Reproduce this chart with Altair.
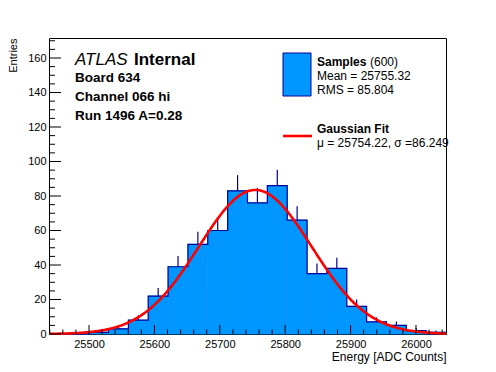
import altair as alt
import numpy as np
import pandas as pd

# ---- data ----
counts = [0, 0, 1, 3, 8, 22, 39, 52, 60, 83, 76, 86, 66, 35, 38, 16, 7, 5, 2, 1]
x_range = [25438.8, 26045.9]
y_max = 171.6
fit_mu = 25754.22
fit_sigma = 86.249
fit_amp = 83.5
x_major = [25500, 25600, 25700, 25800, 25900, 26000]
x_minor = [v for v in range(25440, 26046, 20) if v % 100 != 0]
y_major = [0, 20, 40, 60, 80, 100, 120, 140, 160]
y_minor = [v for v in range(5, 171, 5) if v % 20 != 0]

W, H = 397, 296
FONT = "Liberation Sans"
FILL = "#0096ff"
LINE = "#000099"

n = len(counts)
edges = np.linspace(x_range[0], x_range[1], n + 1)
bars = pd.DataFrame({"lo": edges[:-1], "hi": edges[1:], "c": counts, "base": 0})
bars["mid"] = (bars["lo"] + bars["hi"]) / 2
bars["err"] = bars["c"] + np.sqrt(bars["c"])
steps = pd.DataFrame({"lo": list(edges), "c": counts + [counts[-1]]})

fx = np.linspace(x_range[0], x_range[1], 300)
fit = pd.DataFrame({"lo": fx, "c": fit_amp * np.exp(-0.5 * ((fx - fit_mu) / fit_sigma) ** 2)})

xs = alt.Scale(domain=x_range, nice=False, zero=False)
ys = alt.Scale(domain=[0, y_max], nice=False, zero=True)

xax = alt.Axis(
    values=x_major, format="d", ticks=False, domain=False, grid=False,
    labelFont=FONT, labelFontSize=11, labelPadding=4, labelColor="black",
    title="Energy [ADC Counts]", titleFont=FONT, titleFontSize=12,
    titleFontWeight="normal", titleX=W, titleY=26, titleAlign="right",
    titleBaseline="alphabetic", titleColor="black")
yax = alt.Axis(
    values=y_major, format="d", ticks=False, domain=False, grid=False,
    labelFont=FONT, labelFontSize=11, labelPadding=3, labelColor="black",
    title="Entries", titleFont=FONT, titleFontSize=11, titleFontWeight="normal",
    titleAngle=270, titleX=-33, titleY=0, titleAlign="right",
    titleBaseline="alphabetic", titleColor="black")

def X(f):
    return alt.X(f, scale=xs, axis=xax, title="Energy [ADC Counts]")

def Y(f):
    return alt.Y(f, scale=ys, axis=yax, title="Entries")

base_bars = alt.Chart(bars).mark_rect(fill=FILL, stroke=FILL, strokeWidth=0.8).encode(
    x=X("lo:Q"), x2="hi:Q", y=Y("c:Q"), y2="base:Q")

outline = alt.Chart(steps).mark_line(color=LINE, strokeWidth=1.2, interpolate="step-after").encode(
    x=X("lo:Q"), y=Y("c:Q"))

errs = alt.Chart(bars[bars["c"] > 0]).mark_rule(color=LINE, strokeWidth=1.2).encode(
    x=X("mid:Q"), y=Y("c:Q"), y2="err:Q")

fitline = alt.Chart(fit).mark_line(color="#ff0000", strokeWidth=2.6).encode(
    x=X("lo:Q"), y=Y("c:Q"))

def yticks(vals, length):
    return alt.Chart(pd.DataFrame({"c": vals})).mark_rule(color="black").encode(
        y=Y("c:Q"), x=alt.value(0), x2=alt.value(length))

def xticks(vals, length):
    return alt.Chart(pd.DataFrame({"lo": vals})).mark_rule(color="black").encode(
        x=X("lo:Q"), y=alt.value(H), y2=alt.value(H - length))

one = pd.DataFrame({"a": [0]})

def label(txt, x, y, size=12, weight="normal", style="normal", color="black"):
    return alt.Chart(one).mark_text(
        text=txt, font=FONT, fontSize=size, fontWeight=weight, fontStyle=style,
        align="left", baseline="alphabetic", color=color).encode(
        x=alt.value(x), y=alt.value(y))

leg_box = alt.Chart(one).mark_rect(fill=FILL, stroke=LINE, strokeWidth=1).encode(
    x=alt.value(234), x2=alt.value(262), y=alt.value(15), y2=alt.value(58))
leg_line = alt.Chart(one).mark_rule(color="#ff0000", strokeWidth=2.6).encode(
    x=alt.value(234), x2=alt.value(263), y=alt.value(98))

texts = [
    label("ATLAS", 26, 27, 17, "normal", "italic"),
    label("Internal", 85, 27, 17, "bold"),
    label("Board 634", 26, 44, 13.5, "bold"),
    label("Channel 066 hi", 26, 63, 13.5, "bold"),
    label("Run 1496 A=0.28", 26, 82, 13.5, "bold"),
    label("Samples", 268, 28, 12, "bold"),
    label("(600)", 321, 28, 12),
    label("Mean = 25755.32", 268, 42, 12),
    label("RMS = 85.804", 268, 56, 12),
    label("Gaussian Fit", 268, 95, 12, "bold"),
    label("\u03bc = 25754.22, \u03c3 =86.249", 268, 109, 12),
]

chart = alt.layer(
    base_bars, outline, errs, fitline,
    yticks(y_major, 12), yticks(y_minor, 6), xticks(x_major, 9), xticks(x_minor, 4.5),
    leg_box, leg_line, *texts,
).properties(
    width=W, height=H,
    autosize=alt.AutoSizeParams(type="none"),
    padding={"left": 41, "top": 30, "right": 40, "bottom": 30},
    background="white",
).configure_view(stroke="black", strokeWidth=1)

chart.save("out.html", embed_options={"renderer": "svg", "actions": False})
